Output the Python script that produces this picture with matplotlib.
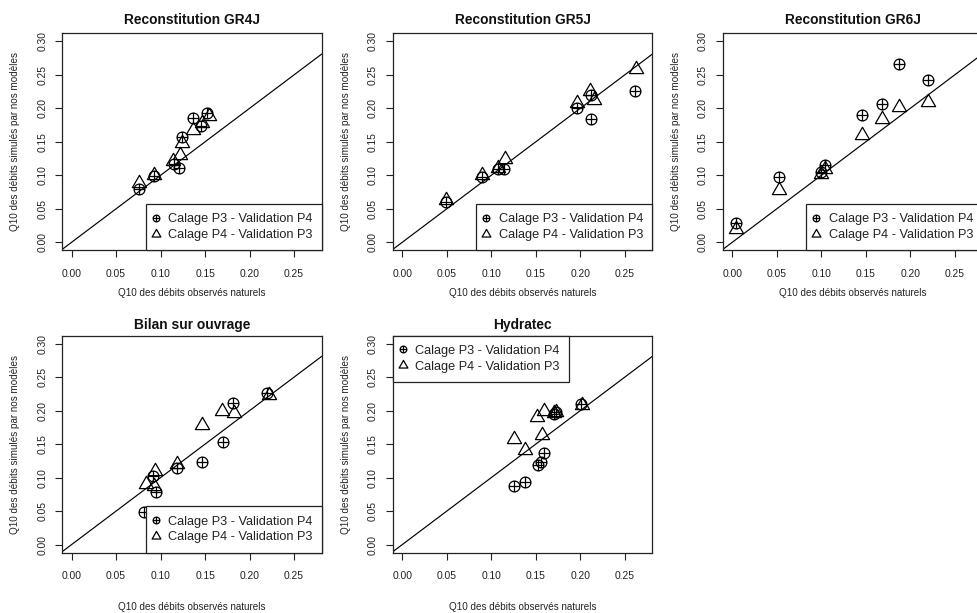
import numpy as np
import matplotlib.pyplot as plt
from matplotlib.path import Path
from matplotlib.ticker import FormatStrFormatter

plt.rcParams['font.family'] = ['Liberation Sans', 'DejaVu Sans']

# --- Data: Q10 observed (x) vs simulated (y), two calibration/validation set-ups ---
gr4j_p3_obs = [0.076, 0.093, 0.115, 0.121, 0.124, 0.136, 0.145, 0.152]
gr4j_p3_sim = [0.080, 0.099, 0.117, 0.111, 0.157, 0.186, 0.173, 0.193]
gr4j_p4_obs = [0.076, 0.093, 0.114, 0.122, 0.124, 0.136, 0.146, 0.154]
gr4j_p4_sim = [0.088, 0.101, 0.122, 0.130, 0.148, 0.168, 0.178, 0.188]

gr5j_p3_obs = [0.049, 0.090, 0.107, 0.114, 0.196, 0.212, 0.212, 0.262]
gr5j_p3_sim = [0.060, 0.097, 0.110, 0.110, 0.200, 0.220, 0.184, 0.226]
gr5j_p4_obs = [0.049, 0.090, 0.108, 0.115, 0.196, 0.211, 0.215, 0.263]
gr5j_p4_sim = [0.063, 0.101, 0.111, 0.125, 0.208, 0.226, 0.213, 0.258]

gr6j_p3_obs = [0.004, 0.052, 0.100, 0.104, 0.146, 0.168, 0.187, 0.220]
gr6j_p3_sim = [0.029, 0.098, 0.105, 0.116, 0.190, 0.206, 0.266, 0.242]
gr6j_p4_obs = [0.004, 0.052, 0.100, 0.104, 0.146, 0.168, 0.187, 0.220]
gr6j_p4_sim = [0.020, 0.078, 0.102, 0.109, 0.160, 0.184, 0.202, 0.210]

bilan_p3_obs = [0.081, 0.091, 0.095, 0.118, 0.147, 0.170, 0.181, 0.220]
bilan_p3_sim = [0.048, 0.103, 0.078, 0.115, 0.123, 0.153, 0.211, 0.226]
bilan_p4_obs = [0.084, 0.094, 0.093, 0.118, 0.147, 0.169, 0.182, 0.222]
bilan_p4_sim = [0.091, 0.110, 0.088, 0.121, 0.178, 0.199, 0.197, 0.224]

hydra_p3_obs = [0.126, 0.138, 0.152, 0.156, 0.159, 0.171, 0.173, 0.201]
hydra_p3_sim = [0.088, 0.093, 0.119, 0.123, 0.136, 0.195, 0.198, 0.210]
hydra_p4_obs = [0.126, 0.138, 0.151, 0.157, 0.159, 0.171, 0.173, 0.202]
hydra_p4_sim = [0.157, 0.141, 0.190, 0.163, 0.200, 0.196, 0.198, 0.209]

titles = ["Reconstitution GR4J", "Reconstitution GR5J", "Reconstitution GR6J",
          "Bilan sur ouvrage", "Hydratec"]
legend_labels = ["Calage P3 - Validation P4", "Calage P4 - Validation P3"]
legend_locs = ["lower right", "lower right", "lower right", "lower right", "upper left"]
xlab = "Q10 des débits observés naturels"
ylab = "Q10 des débits simulés par nos modèles"

panels = [
    (gr4j_p3_obs, gr4j_p3_sim, gr4j_p4_obs, gr4j_p4_sim),
    (gr5j_p3_obs, gr5j_p3_sim, gr5j_p4_obs, gr5j_p4_sim),
    (gr6j_p3_obs, gr6j_p3_sim, gr6j_p4_obs, gr6j_p4_sim),
    (bilan_p3_obs, bilan_p3_sim, bilan_p4_obs, bilan_p4_sim),
    (hydra_p3_obs, hydra_p3_sim, hydra_p4_obs, hydra_p4_sim),
]

# R-like symbols: circle with a cross (pch 10) and open triangle (pch 2)
circle_plus = Path.make_compound_path(
    Path.unit_circle(),
    Path([[-1, 0], [1, 0], [0, -1], [0, 1]],
         [Path.MOVETO, Path.LINETO, Path.MOVETO, Path.LINETO]))
triangle = Path([(0, 1), (-0.866, -0.5), (0.866, -0.5), (0, 0)],
                [Path.MOVETO, Path.LINETO, Path.LINETO, Path.CLOSEPOLY])

W, H = 977, 613
fig = plt.figure(figsize=(W / 100, H / 100), dpi=100)


def px_rect(left, top, w, h):
    return [left / W, 1 - (top + h) / H, w / W, h / H]


col_left = [62, 392.7, 722.7]
row_top = [33.3, 335.6]
ax_w, ax_h = 259.5, 217
title_y = [20, 324.5]
xlab_y = [293.3, 606.5]
ylab_gap = 47

for i, (p3x, p3y, p4x, p4y) in enumerate(panels):
    r, c = divmod(i, 3)
    ax = fig.add_axes(px_rect(col_left[c], row_top[r], ax_w, ax_h))

    ax.axline((0, 0), slope=1, color='black', lw=0.85, zorder=1)
    h1, = ax.plot(p3x, p3y, ls='none', marker=circle_plus, ms=7.8,
                  mfc='none', mec='black', mew=0.9, zorder=3)
    h2, = ax.plot(p4x, p4y, ls='none', marker=triangle, ms=11.8,
                  mfc='none', mec='black', mew=0.9, zorder=3)

    ax.set_xlim(-0.0108, 0.2808)
    ax.set_ylim(-0.012, 0.312)
    ax.set_xticks(np.arange(0, 0.26, 0.05))
    ax.set_yticks(np.arange(0, 0.31, 0.05))
    ax.xaxis.set_major_formatter(FormatStrFormatter('%.2f'))
    ax.yaxis.set_major_formatter(FormatStrFormatter('%.2f'))
    ax.tick_params(direction='out', length=5, width=0.8, labelsize=7.4,
                   colors='#222222', pad=8.5)
    ax.tick_params(axis='y', labelrotation=90, pad=5.5)
    for lbl in ax.get_yticklabels():
        lbl.set_va('center')
    for s in ax.spines.values():
        s.set_linewidth(0.9)
        s.set_color('#222222')

    leg = ax.legend([h1, h2], legend_labels, loc=legend_locs[i],
                    borderaxespad=0, fancybox=False, framealpha=1,
                    edgecolor='#222222', fontsize=9.2, markerscale=0.62,
                    handlelength=0.1, handletextpad=0.92, borderpad=0.72,
                    labelspacing=0.3)
    leg.get_frame().set_linewidth(0.9)
    for t in leg.get_texts():
        t.set_color('#222222')

    cx = (col_left[c] + ax_w / 2) / W
    fig.text(cx, 1 - title_y[r] / H, titles[i], ha='center', va='center',
             fontsize=9.9, fontweight='bold', color='#111111')
    fig.text(cx, 1 - xlab_y[r] / H, xlab, ha='center', va='center',
             fontsize=7.1, color='#222222')
    fig.text((col_left[c] - ylab_gap) / W, 1 - (row_top[r] + ax_h / 2) / H,
             ylab, ha='center', va='center', rotation=90,
             fontsize=7.1, color='#222222')

fig.savefig('out.png', dpi=100)
